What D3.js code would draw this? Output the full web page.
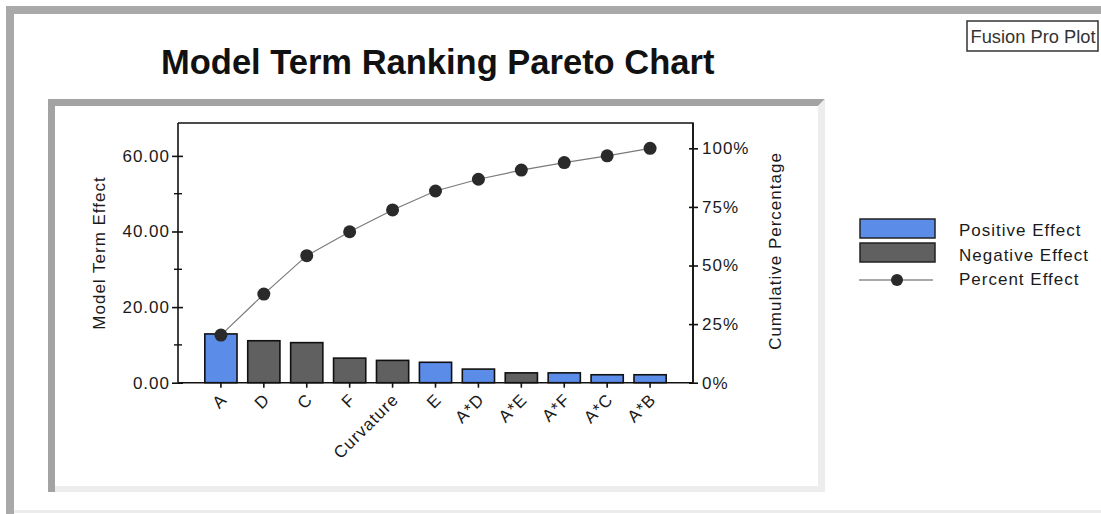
<!DOCTYPE html>
<html>
<head>
<meta charset="utf-8">
<script src="https://cdn.jsdelivr.net/npm/d3@7"></script>
<style>
  html, body { margin: 0; padding: 0; background: #fff; }
  svg { display: block; }
  text { font-family: "Liberation Sans", Arial, sans-serif; }
</style>
</head>
<body>
<svg id="chart" width="1101" height="514"></svg>
<script>
// ---- data ----
const categories = ["A", "D", "C", "F", "Curvature", "E", "A*D", "A*E", "A*F", "A*C", "A*B"];
const effects = [12.9, 11.1, 10.6, 6.5, 5.9, 5.4, 3.6, 2.6, 2.6, 2.1, 2.1];
const effectSign = ["Positive", "Negative", "Negative", "Negative", "Negative", "Positive", "Positive", "Negative", "Positive", "Positive", "Positive"];
const cumulativePct = [20.3, 37.8, 54.2, 64.4, 73.7, 81.8, 86.8, 90.7, 93.9, 96.8, 100];
const leftTicks = [0, 20, 40, 60];
const leftMinorTicks = [10, 30, 50];
const rightTicks = [0, 25, 50, 75, 100];
const legendLabels = ["Positive Effect", "Negative Effect", "Percent Effect"];

// ---- layout ----
const svg = d3.select("#chart");
const plot = { left: 178, right: 693, top: 123, bottom: 382.7 };
const colors = { Positive: "#5b8ce8", Negative: "#606060" };
const font = "17px";

// outer frame
svg.append("rect").attr("x", 6).attr("y", 6).attr("width", 1101).attr("height", 8).attr("fill", "#a9a9a9");
svg.append("rect").attr("x", 6).attr("y", 6).attr("width", 8).attr("height", 514).attr("fill", "#a9a9a9");
svg.append("rect").attr("x", 14).attr("y", 510).attr("width", 1090).attr("height", 3).attr("fill", "#ececec");

// inner frame (bevel)
svg.append("polygon").attr("points", "48,99 825,99 818,106 55,106 55,492 48,492").attr("fill", "#a3a3a3");
svg.append("polygon").attr("points", "825,99 825,492 55,492 55,486 818,486 818,106").attr("fill", "#ededed");

// title
svg.append("text").attr("x", 161).attr("y", 74)
  .attr("font-size", "34.5px").attr("font-weight", "bold").attr("fill", "#111")
  .text("Model Term Ranking Pareto Chart");

// Fusion Pro Plot box
svg.append("rect").attr("x", 967).attr("y", 21).attr("width", 131).attr("height", 30)
  .attr("fill", "#fff").attr("stroke", "#333").attr("stroke-width", 1.5);
svg.append("text").attr("x", 970.5).attr("y", 43).attr("font-size", "19px").attr("fill", "#333")
  .attr("textLength", 125).attr("lengthAdjust", "spacingAndGlyphs")
  .text("Fusion Pro Plot");

// scales
const x = d3.scaleBand().domain(categories).range([plot.left, plot.right])
  .paddingInner(0.25).paddingOuter(0.625);
const yL = d3.scaleLinear().domain([0, 68.7]).range([plot.bottom, plot.top]);
const yR = d3.scaleLinear().domain([0, 110.8]).range([plot.bottom, plot.top]);

// bars
svg.append("g").selectAll("rect").data(categories).join("rect")
  .attr("x", (d) => x(d))
  .attr("width", x.bandwidth())
  .attr("y", (d, i) => yL(effects[i]))
  .attr("height", (d, i) => yL(0) - yL(effects[i]))
  .attr("fill", (d, i) => colors[effectSign[i]])
  .attr("stroke", "#111").attr("stroke-width", 1.6);

// plot box (top and right)
svg.append("path")
  .attr("d", `M${plot.left},${plot.top}H${plot.right}V${plot.bottom}`)
  .attr("fill", "none").attr("stroke", "#111").attr("stroke-width", 1.5);

// left axis
const gL = svg.append("g").attr("transform", `translate(${plot.left},0)`)
  .call(d3.axisLeft(yL).tickValues(leftTicks).tickFormat(d3.format(".2f")).tickSize(6).tickPadding(2));
gL.selectAll(".tick line").attr("x2", -6).attr("x1", 5);
gL.selectAll(".tick text").attr("font-size", font).attr("letter-spacing", "1px").attr("fill", "#1a1a1a")
  .attr("font-family", "Liberation Sans, Arial, sans-serif");
gL.select(".domain").attr("d", `M0,${plot.top}V${plot.bottom}`);
gL.selectAll("line, path").attr("stroke", "#111").attr("stroke-width", 1.6);
gL.append("g").selectAll("line").data(leftMinorTicks).join("line")
  .attr("x1", -4).attr("x2", 4).attr("y1", (d) => yL(d)).attr("y2", (d) => yL(d))
  .attr("stroke", "#111").attr("stroke-width", 1.4);

// right axis
const gR = svg.append("g").attr("transform", `translate(${plot.right},0)`)
  .call(d3.axisRight(yR).tickValues(rightTicks).tickFormat((d) => d + "%").tickSize(5).tickPadding(4));
gR.selectAll(".tick line").attr("x1", -4).attr("x2", 5);
gR.selectAll(".tick text").attr("font-size", font).attr("letter-spacing", "1px").attr("fill", "#1a1a1a")
  .attr("font-family", "Liberation Sans, Arial, sans-serif");
gR.select(".domain").attr("d", `M0,${plot.top}V${plot.bottom}`);
gR.selectAll("line, path").attr("stroke", "#111").attr("stroke-width", 1.6);

// bottom axis
const gB = svg.append("g").attr("transform", `translate(0,${plot.bottom})`)
  .call(d3.axisBottom(x).tickSize(5).tickSizeOuter(0));
gB.select(".domain").attr("d", `M${plot.left},0H${plot.right}`);
gB.selectAll("line, path").attr("stroke", "#111").attr("stroke-width", 1.6);
gB.selectAll(".tick text")
  .attr("font-size", font).attr("letter-spacing", "1px").attr("fill", "#1a1a1a")
  .attr("font-family", "Liberation Sans, Arial, sans-serif")
  .attr("text-anchor", "end")
  .attr("y", 0).attr("dy", 0)
  .attr("transform", "translate(7,18) rotate(-45)");

// axis titles
svg.append("text").attr("transform", "translate(105,253) rotate(-90)")
  .attr("text-anchor", "middle").attr("font-size", font).attr("letter-spacing", "1px").attr("fill", "#1a1a1a")
  .text("Model Term Effect");
svg.append("text").attr("transform", "translate(781,251) rotate(-90)")
  .attr("text-anchor", "middle").attr("font-size", font).attr("letter-spacing", "1px").attr("fill", "#1a1a1a")
  .text("Cumulative Percentage");

// cumulative line
const line = d3.line().x((d, i) => x(categories[i]) + x.bandwidth() / 2).y((d) => yR(d));
svg.append("path").datum(cumulativePct).attr("d", line)
  .attr("fill", "none").attr("stroke", "#7a7a7a").attr("stroke-width", 1.2);
svg.append("g").selectAll("circle").data(cumulativePct).join("circle")
  .attr("cx", (d, i) => x(categories[i]) + x.bandwidth() / 2)
  .attr("cy", (d) => yR(d)).attr("r", 6.5).attr("fill", "#2a2a2a");

// legend
const lg = svg.append("g");
lg.append("rect").attr("x", 860).attr("y", 219).attr("width", 75).attr("height", 19)
  .attr("fill", colors.Positive).attr("stroke", "#222").attr("stroke-width", 1.5);
lg.append("rect").attr("x", 860).attr("y", 243).attr("width", 75).attr("height", 19)
  .attr("fill", colors.Negative).attr("stroke", "#222").attr("stroke-width", 1.5);
lg.append("line").attr("x1", 859).attr("x2", 933).attr("y1", 280).attr("y2", 280)
  .attr("stroke", "#555").attr("stroke-width", 1.2);
lg.append("circle").attr("cx", 897).attr("cy", 280).attr("r", 6).attr("fill", "#2a2a2a");
lg.selectAll("text").data(legendLabels).join("text")
  .attr("x", 959).attr("y", (d, i) => 236 + i * 24.7)
  .attr("font-size", font).attr("letter-spacing", "1px").attr("fill", "#1a1a1a")
  .text((d) => d);
</script>
</body>
</html>
